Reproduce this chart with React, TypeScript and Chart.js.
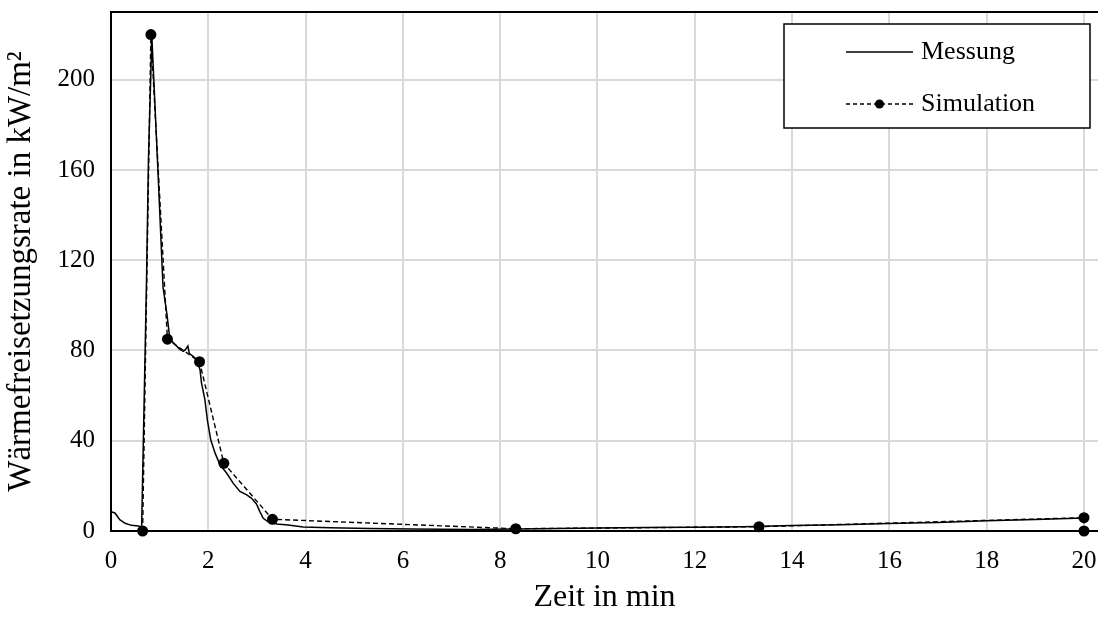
import React, { useEffect, useRef } from "react";
import { Chart, registerables } from "chart.js";

Chart.register(...registerables);

// Messung: gemessene Wärmefreisetzungsrate (Zeit in min, Wert in kW/m²)
const messungZeit = [
  0, 0.08, 0.18, 0.29, 0.42, 0.56, 0.63, 0.73, 0.77, 0.84, 0.96, 1.07, 1.15, 1.21,
  1.32, 1.42, 1.49, 1.53, 1.58, 1.61, 1.69, 1.76, 1.83, 1.86, 1.93, 1.98, 2.05,
  2.14, 2.24, 2.38, 2.51, 2.65, 2.79, 2.89, 2.99, 3.06, 3.13, 3.23, 3.41, 3.64,
  3.95, 4.5, 5.3, 6.2, 7.4, 8.3, 9.2, 10.0, 11.0, 12.0, 13.0, 14.0, 15.0, 16.0,
  17.0, 18.0, 19.0, 20.0,
];
const messungWert = [
  8.6, 8.0, 5.0, 3.4, 2.5, 2.2, 1.8, 111, 165, 219, 162, 108, 96, 85,
  82.6, 80.4, 79.6, 80.4, 82.0, 78.6, 77.4, 75.9, 71.5, 65.6, 58.2, 49.3, 40.4,
  34.5, 29.3, 25.6, 21.2, 17.5, 16.0, 14.5, 12.0, 8.6, 5.6, 4.1, 3.1, 2.7,
  1.8, 1.4, 1.1, 0.9, 0.7, 0.9, 1.1, 1.3, 1.5, 1.7, 1.9, 2.4, 2.8, 3.3,
  3.8, 4.5, 5.1, 5.8,
];

// Simulation: berechnete Werte an den Ausgabezeitpunkten
const simulationZeit = [0.65, 0.82, 1.16, 1.82, 2.32, 3.32, 8.32, 13.32, 20, 20];
const simulationWert = [0, 220, 85, 75, 30, 5.2, 1.0, 1.9, 5.9, 0];

// Achsenbeschriftungen
const xTicks = [0, 2, 4, 6, 8, 10, 12, 14, 16, 18, 20];
const yTicks = [0, 40, 80, 120, 160, 200];

const FONT = "'Liberation Serif', 'Times New Roman', serif";

const toPoints = (xs: number[], ys: number[]) => xs.map((x, i) => ({ x, y: ys[i] }));

// Rahmen oben und eigene Legende im Diagrammbereich
const framePlugin = {
  id: "frameAndLegend",
  afterDraw(chart: any) {
    const { ctx, chartArea } = chart;
    ctx.save();
    ctx.strokeStyle = "#000";
    ctx.lineWidth = 2;
    ctx.beginPath();
    ctx.moveTo(chartArea.left, chartArea.top);
    ctx.lineTo(chartArea.right, chartArea.top);
    ctx.stroke();

    // Legende
    const bx = 784, by = 24, bw = 306, bh = 104;
    ctx.fillStyle = "#fff";
    ctx.fillRect(bx, by, bw, bh);
    ctx.lineWidth = 1.5;
    ctx.strokeRect(bx, by, bw, bh);

    const lx0 = 846, lx1 = 913;
    const y1 = 52, y2 = 104;
    ctx.lineWidth = 1.4;
    ctx.beginPath();
    ctx.moveTo(lx0, y1);
    ctx.lineTo(lx1, y1);
    ctx.stroke();

    ctx.setLineDash([4, 3]);
    ctx.beginPath();
    ctx.moveTo(lx0, y2);
    ctx.lineTo(lx1, y2);
    ctx.stroke();
    ctx.setLineDash([]);
    ctx.fillStyle = "#000";
    ctx.beginPath();
    ctx.arc((lx0 + lx1) / 2, y2, 4.5, 0, Math.PI * 2);
    ctx.fill();

    ctx.font = `26px ${FONT}`;
    ctx.textBaseline = "middle";
    ctx.textAlign = "left";
    ctx.fillText("Messung", 921, y1);
    ctx.fillText("Simulation", 921, y2);
    ctx.restore();
  },
};

export default function App() {
  const canvasRef = useRef<HTMLCanvasElement | null>(null);

  useEffect(() => {
    const canvas = canvasRef.current;
    if (!canvas) return;
    const chart = new Chart(canvas, {
      type: "line",
      data: {
        datasets: [
          {
            label: "Messung",
            data: toPoints(messungZeit, messungWert),
            borderColor: "#000",
            borderWidth: 1.5,
            pointRadius: 0,
            tension: 0,
            fill: false,
          },
          {
            label: "Simulation",
            data: toPoints(simulationZeit, simulationWert),
            borderColor: "#000",
            borderWidth: 1.4,
            borderDash: [5, 3],
            pointRadius: 5.5,
            pointBackgroundColor: "#000",
            pointBorderColor: "#000",
            pointBorderWidth: 0,
            tension: 0,
            fill: false,
            clip: false as any,
          },
        ],
      },
      options: {
        responsive: false,
        animation: false,
        events: [],
        layout: { autoPadding: false, padding: { left: 0, top: 12, right: 0, bottom: 0 } },
        plugins: {
          legend: { display: false },
          tooltip: { enabled: false },
        },
        scales: {
          x: {
            type: "linear",
            min: 0,
            max: 20.288,
            afterBuildTicks: (scale: any) => {
              scale.ticks = xTicks.map((v) => ({ value: v }));
            },
            afterFit: (scale: any) => {
              scale.height = 87;
              scale.paddingLeft = 0;
              scale.paddingRight = 0;
            },
            grid: { color: "#d9d9d9", lineWidth: 2, drawTicks: false },
            border: { color: "#000", width: 2 },
            ticks: {
              color: "#000",
              font: { family: FONT, size: 25 },
              padding: 15,
              maxRotation: 0,
              autoSkip: false,
            },
            title: {
              display: true,
              text: "Zeit in min",
              color: "#000",
              font: { family: FONT, size: 32 },
              padding: { top: 0, bottom: 1 },
            },
          },
          y: {
            type: "linear",
            min: 0,
            max: 230,
            afterBuildTicks: (scale: any) => {
              scale.ticks = yTicks.map((v) => ({ value: v }));
            },
            afterFit: (scale: any) => {
              scale.width = 111;
              scale.paddingTop = 0;
              scale.paddingBottom = 0;
            },
            grid: { color: "#d9d9d9", lineWidth: 2, drawTicks: false },
            border: { color: "#000", width: 2 },
            ticks: {
              color: "#000",
              font: { family: FONT, size: 25 },
              padding: 16,
            },
            title: {
              display: true,
              text: "Wärmefreisetzungsrate in kW/m²",
              color: "#000",
              font: { family: FONT, size: 33 },
              padding: { top: 2, bottom: 0 },
            },
          },
        },
      },
      plugins: [framePlugin],
    });
    return () => chart.destroy();
  }, []);

  return (
    <div style={{ position: "fixed", left: 0, top: 0, width: 1098, height: 618, background: "#fff" }}>
      <canvas ref={canvasRef} width={1098} height={618} style={{ display: "block" }} />
    </div>
  );
}
